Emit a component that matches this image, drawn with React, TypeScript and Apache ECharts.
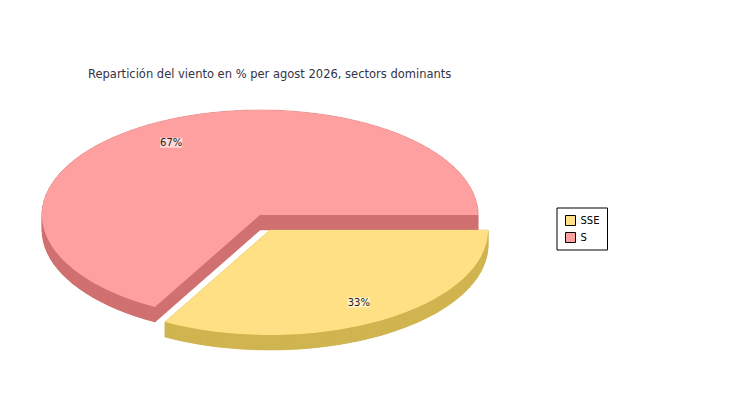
import React, { useEffect, useRef } from "react";
import * as echarts from "echarts";

// slices drawn counterclockwise from 3 o'clock, in this order
const sectors = ["S", "SSE"];
const shares = [67, 33];
const topColors = ["#FFA0A0", "#FFE084"];
const sideColors = ["#D07070", "#D0B450"];
const exploded = [false, true];
const legendOrder = ["SSE", "S"];

const App: React.FC = () => {
  const chartRef = useRef<HTMLDivElement | null>(null);

  useEffect(() => {
    if (!chartRef.current) return;
    const chart = echarts.init(chartRef.current, undefined, { renderer: "svg" });
    const total = shares.reduce((a, b) => a + b, 0);
    const cx = 252, cy = 207, rx = 218, ry = 105, depth = 15;

    const makeRender = (idx: number) => () => {
      let start = 0;
      for (let i = 0; i < idx; i++) start += shares[i] / total;
      const end = start + shares[idx] / total;
      const a0 = start * Math.PI * 2, a1 = end * Math.PI * 2;
      const mid = (a0 + a1) / 2;
      const ox = exploded[idx] ? 10 : 0;
      const oy = exploded[idx] ? 15 : 0;
      const pt = (a: number, r = 1, d = 0) => [
        cx + ox + rx * r * Math.cos(a),
        cy + oy + d - ry * r * Math.sin(a),
      ];
      const steps = 80;
      const top: number[][] = [pt(0, 0)];
      for (let s = 0; s <= steps; s++) top.push(pt(a0 + ((a1 - a0) * s) / steps));
      const bottom = top.map(([x, y]) => [x, y + depth]);
      const children: any[] = [
        { type: "polygon", shape: { points: bottom }, style: { fill: sideColors[idx] } },
      ];
      for (let k = 0; k < top.length; k++) {
        const n = (k + 1) % top.length;
        children.push({
          type: "polygon",
          shape: { points: [top[k], top[n], bottom[n], bottom[k]] },
          style: { fill: sideColors[idx], stroke: sideColors[idx], lineWidth: 0.5 },
        });
      }
      children.push({ type: "polygon", shape: { points: top }, style: { fill: topColors[idx] } });
      const lp = pt(mid, 0.8);
      children.push({
        type: "text",
        x: lp[0],
        y: lp[1],
        style: {
          text: `${shares[idx]}%`,
          fill: "#222",
          fontSize: 10,
          fontFamily: "DejaVu Sans",
          align: "center",
          verticalAlign: "middle",
          backgroundColor: "rgba(255,255,255,0.6)",
        },
      });
      return { type: "group", children };
    };

    chart.setOption({
      animation: false,
      title: {
        text: "Repartición del viento en % per agost 2026, sectors dominants",
        left: 75,
        top: 55,
        textStyle: { fontSize: 11.5, fontWeight: "normal", color: "#333344", fontFamily: "DejaVu Sans" },
      },
      legend: {
        data: legendOrder,
        orient: "vertical",
        left: 549,
        top: 200,
        padding: [7, 8, 7, 8],
        itemGap: 6,
        itemWidth: 10,
        itemHeight: 10,
        icon: "rect",
        borderColor: "#000",
        borderWidth: 1,
        backgroundColor: "#fff",
        itemStyle: { borderColor: "#000", borderWidth: 1 },
        textStyle: { fontSize: 10, color: "#000", fontFamily: "DejaVu Sans" },
      },
      series: sectors.map((name, idx) => ({
        name,
        type: "custom",
        coordinateSystem: "none",
        itemStyle: { color: topColors[idx] },
        renderItem: makeRender(idx),
        data: [shares[idx]],
      })),
    });

    return () => chart.dispose();
  }, []);

  return <div ref={chartRef} style={{ width: "734px", height: "384px" }} />;
};

export default App;
